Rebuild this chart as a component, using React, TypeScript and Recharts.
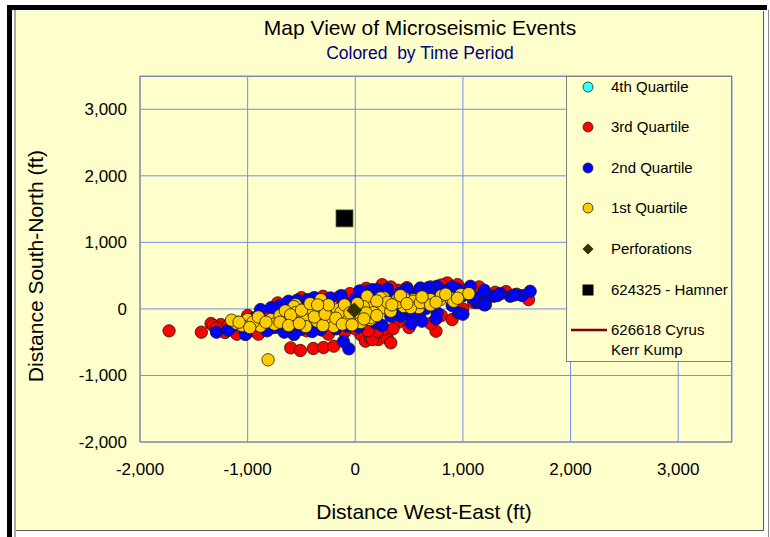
import React from 'react';
import { ScatterChart, Scatter, XAxis, YAxis, CartesianGrid, Legend } from 'recharts';

const X_TICKS = [-2000, -1000, 0, 1000, 2000, 3000];
const Y_TICKS = [-2000, -1000, 0, 1000, 2000, 3000];

const SERIES_NAMES = ['4th Quartile', '3rd Quartile', '2nd Quartile', '1st Quartile', 'Perforations', '624325 - Hamner', '626618 Cyrus Kerr Kump'];

const Q4: [number, number][] = [];

const Q3: [number, number][] = [
  [-1730, -330], [-1430, -350], [-1340, -220], [-1250, -235], [-1210, -355], [-1080, -335], [-1150, -300],
  [-970, -330], [-900, -310], [-800, -300], [-700, -280], [-600, -585], [-510, -625], [-390, -595],
  [-295, -580], [-200, -560], [50, -385], [95, -485], [140, -435], [215, -460], [295, -435], [330, -510],
  [265, -310], [750, -335], [-90, 190], [50, 245], [265, 320], [250, 365], [950, 365], [855, 390],
  [1190, 265], [1210, 65], [1610, 140], [-600, 80], [-400, 150], [-150, 180], [150, 260], [400, 280],
  [600, 300], [700, 330], [1050, 300], [1300, 250], [1500, 220], [-800, -60], [-1000, -100], [-650, -320],
  [-450, -330], [-300, -320], [0, -300], [200, -250], [400, -200], [600, -150], [800, -100], [1000, 0],
  [1100, 100], [160, -460], [205, -335], [-1320, -250], [-1180, -250], [-1290, -290], [-1100, -380],
  [-850, -40], [-720, 90], [-500, 170], [-300, 190], [-50, 230], [100, 310], [330, 330], [480, 320],
  [800, 360], [1150, 330], [1400, 260], [-250, -380], [-100, -350], [120, -330], [350, -300], [500, -280],
  [700, -220], [900, -160], [-900, -380], [-1050, -280]
];

const Q2: [number, number][] = [
  [-1290, -350], [-1140, -260], [-1020, -385], [-1020, -190], [-910, -115], [-880, -10], [-630, -285],
  [-510, -310], [-320, -310], [-75, -260], [330, -110], [485, -85], [575, -130], [-620, 115], [-445, 140],
  [-230, 165], [110, 265], [160, 290], [420, 240], [575, 240], [205, 290], [605, 315], [760, 340],
  [1070, 340], [1165, 190], [1285, 190], [1440, 190], [1550, 200], [1625, 265], [190, -210], [420, -110],
  [620, -185], [960, -60], [760, -60], [1130, 95], [1225, 165], [-110, -490], [-60, -600], [-570, -385],
  [-110, 95], [215, 215], [-800, -200], [-700, 50], [-350, 100], [0, 150], [300, 200], [500, 180],
  [700, 250], [850, 280], [950, 300], [1000, 200], [1100, 150], [1350, 230], [1480, 210], [900, 50],
  [650, 0], [400, -30], [100, -150], [-200, -200], [-450, -250], [-750, -280], [-950, -250], [-1100, -200],
  [-1180, -320], [-960, -150], [-780, 20], [-540, 130], [-380, 170], [-130, 200], [40, 270], [300, 300],
  [480, 300], [680, 320], [900, 330], [1200, 280], [1320, 200], [-820, -330], [-660, -350], [-400, -340],
  [-180, -300], [30, -270], [250, -250], [520, -220], [750, -150], [1000, -80], [1200, 60], [-250, 40],
  [150, 100]
];

const Q1: [number, number][] = [
  [-1000, -160], [-880, -260], [-785, -160], [-650, -160], [-540, -110], [-555, 65], [-445, -55], [-320, 140],
  [-355, -185], [-230, -110], [-165, -10], [-200, -235], [-75, -160], [50, -110], [140, -160], [170, 65],
  [110, 190], [-570, 35], [-555, -55], [-600, -205], [-480, -160], [-460, -265], [-355, -35], [-295, 35],
  [-260, -160], [-200, -265], [-135, -55], [-60, -160], [50, -205], [140, -130], [75, 35], [235, 35],
  [265, 170], [390, 140], [450, 35], [540, 140], [590, 20], [235, 165], [265, 20], [390, 95], [450, 170],
  [540, 115], [635, 95], [700, 140], [790, 140], [885, 165], [980, 215], [1055, 230], [915, 115], [170, -55],
  [330, -35], [515, 20], [605, 95], [-810, -765], [-1100, -220], [-950, -200], [-900, -120], [-700, -100],
  [-750, -230], [-650, -30], [-400, 0], [-100, 60], [0, 0], [-300, -250], [-50, -60], [100, -60], [300, 100],
  [700, 60], [800, 200], [-1050, -250], [-1150, -170], [-1080, -200], [-980, -280], [-830, -200],
  [-700, -200], [-600, -90], [-500, -20], [-420, 80], [-380, -120], [-280, -80], [-250, 60], [-180, -140],
  [-120, -230], [-30, -240], [20, 80], [80, -150], [200, -100], [200, 120], [340, 60], [420, 200],
  [480, 80], [620, 180], [750, 100], [840, 220], [950, 160], [-620, -250], [-520, -220], [-350, 60]
];

const PERFS: [number, number][] = [[-10, -20]];
const HAMNER: [number, number][] = [[-100, 1360]];
const WELL: [number, number][] = [];

const toPts = (a: [number, number][]) => a.map(([x, y]) => ({ x, y }));

const FONT = '"Liberation Sans", Arial, sans-serif';
const BG = '#FFFFCC';

const circle = (fill: string) => (p: any) => (
  <circle cx={p.cx} cy={p.cy} r={6.2} fill={fill} stroke="#1a1a1a" strokeWidth={0.8} />
);
const diamond = (p: any) => {
  const s = 7.5;
  return <polygon points={`${p.cx},${p.cy - s} ${p.cx + s},${p.cy} ${p.cx},${p.cy + s} ${p.cx - s},${p.cy}`} fill="#333300" stroke="#222200" strokeWidth={0.5} />;
};
const square = (p: any) => <rect x={p.cx - 8.5} y={p.cy - 8.5} width={17} height={17} fill="#000" stroke="#666633" strokeWidth={0.8} />;

const LEGEND_SYMBOLS = [
  { kind: 'circle', color: '#33FFFF' },
  { kind: 'circle', color: '#FF0000' },
  { kind: 'circle', color: '#0000FF' },
  { kind: 'circle', color: '#FFCC00' },
  { kind: 'diamond', color: '#333300' },
  { kind: 'square', color: '#000000' },
  { kind: 'line', color: '#800000' },
];

const LegendBox = () => (
  <div style={{ position: 'relative', width: 166, height: 286, background: BG, border: '1px solid #808080', boxSizing: 'border-box', fontFamily: FONT, fontSize: 15, color: '#000' }}>
    {SERIES_NAMES.map((name, i) => {
      const sym = LEGEND_SYMBOLS[i];
      const cy = 9.5 + i * 40.6;
      let icon: React.ReactNode = null;
      if (sym.kind === 'circle') icon = <circle cx={21} cy={10} r={5} fill={sym.color} stroke="#222" strokeWidth={0.8} />;
      if (sym.kind === 'diamond') icon = <polygon points="21,4.5 26.5,10 21,15.5 15.5,10" fill={sym.color} />;
      if (sym.kind === 'square') icon = <rect x={15.5} y={4.5} width={11} height={11} fill={sym.color} />;
      if (sym.kind === 'line') icon = <line x1={4} y1={10} x2={40} y2={10} stroke={sym.color} strokeWidth={2.6} />;
      const isLast = i === SERIES_NAMES.length - 1;
      const words = name.split(' ');
      return (
        <div key={name} style={{ position: 'absolute', left: 0, top: cy - 10, width: 166, height: 20 }}>
          <svg width={44} height={20} style={{ position: 'absolute', left: 0, top: 0 }}>{icon}</svg>
          <div style={{ position: 'absolute', left: 44, top: 0, whiteSpace: 'nowrap', lineHeight: '19.5px' }}>
            {isLast ? (<>{words.slice(0, 2).join(' ')}<br />{words.slice(2).join(' ')}</>) : name}
          </div>
        </div>
      );
    })}
  </div>
);

export default function App() {
  return (
    <div style={{ position: 'absolute', left: 0, top: 0, width: 770, height: 537, background: '#fff', overflow: 'hidden', fontFamily: FONT }}>
      <div style={{ position: 'absolute', left: 7, top: 5, width: 760, height: 5, background: '#000' }} />
      <div style={{ position: 'absolute', left: 7, top: 5, width: 5, height: 532, background: '#000' }} />
      <div style={{ position: 'absolute', left: 14, top: 10, width: 2, height: 527, background: '#aaa' }} />
      <div style={{ position: 'absolute', left: 16, top: 11, width: 747, height: 519, background: BG, borderRight: '1px solid #555', borderBottom: '1px solid #555' }} />
      <div style={{ position: 'absolute', left: 768, top: 10, width: 1, height: 527, background: '#888' }} />
      <div style={{ position: 'absolute', left: 140, top: 76, width: 592, height: 366, background: BG, borderTop: '1px solid #808080', borderRight: '1px solid #808080', boxSizing: 'border-box' }} />
      <div style={{ position: 'absolute', left: 420, top: 28, transform: 'translate(-50%,-50%)', whiteSpace: 'nowrap', fontSize: 21, color: '#000' }}>Map View of Microseismic Events</div>
      <div style={{ position: 'absolute', left: 420, top: 53, transform: 'translate(-50%,-50%)', whiteSpace: 'nowrap', fontSize: 17.5, color: '#000080' }}>Colored&nbsp; by Time Period</div>
      <div style={{ position: 'absolute', left: 424, top: 512, transform: 'translate(-50%,-50%)', whiteSpace: 'nowrap', fontSize: 21, color: '#000' }}>Distance West-East (ft)</div>
      <div style={{ position: 'absolute', left: 36, top: 266, transform: 'translate(-50%,-50%) rotate(-90deg)', whiteSpace: 'nowrap', fontSize: 21, color: '#000' }}>Distance South-North (ft)</div>
      <div style={{ position: 'absolute', left: 0, top: 0 }}>
        <ScatterChart width={770} height={537} margin={{ top: 76, left: 80, right: 38, bottom: 55 }}>
          <CartesianGrid stroke="#6F8FEF" strokeWidth={1} fill="none" />
          <XAxis type="number" dataKey="x" domain={[-2000, 3500]} ticks={X_TICKS} height={40} allowDataOverflow
            tickFormatter={(v: number) => v.toLocaleString('en-US')} tickLine={false} tickSize={0} tickMargin={21}
            axisLine={{ stroke: '#808080' }} tick={{ fill: '#000', fontSize: 17, fontFamily: FONT }} />
          <YAxis type="number" dataKey="y" domain={[-2000, 3500]} ticks={Y_TICKS} width={60} allowDataOverflow
            tickFormatter={(v: number) => v.toLocaleString('en-US')} tickLine={false} tickSize={0} tickMargin={13}
            axisLine={{ stroke: '#808080' }} tick={{ fill: '#000', fontSize: 17, fontFamily: FONT }} />
          <Legend layout="vertical" align="center" verticalAlign="middle" content={() => <LegendBox />}
            wrapperStyle={{ position: 'absolute', left: 566, top: 76, width: 166, height: 286 }} />
          <Scatter name={SERIES_NAMES[0]} data={toPts(Q4)} fill="#33FFFF" shape={circle('#33FFFF')} isAnimationActive={false} />
          <Scatter name={SERIES_NAMES[1]} data={toPts(Q3)} fill="#FF0000" shape={circle('#FF0000')} isAnimationActive={false} />
          <Scatter name={SERIES_NAMES[2]} data={toPts(Q2)} fill="#0000FF" shape={circle('#0000FF')} isAnimationActive={false} />
          <Scatter name={SERIES_NAMES[3]} data={toPts(Q1)} fill="#FFCC00" shape={circle('#FFCC00')} isAnimationActive={false} />
          <Scatter name={SERIES_NAMES[4]} data={toPts(PERFS)} fill="#333300" shape={diamond} isAnimationActive={false} />
          <Scatter name={SERIES_NAMES[5]} data={toPts(HAMNER)} fill="#000" shape={square} isAnimationActive={false} />
          <Scatter name={SERIES_NAMES[6]} data={toPts(WELL)} fill="#800000" line={{ stroke: '#800000', strokeWidth: 2.6 }} shape={() => null} isAnimationActive={false} />
        </ScatterChart>
      </div>
    </div>
  );
}
